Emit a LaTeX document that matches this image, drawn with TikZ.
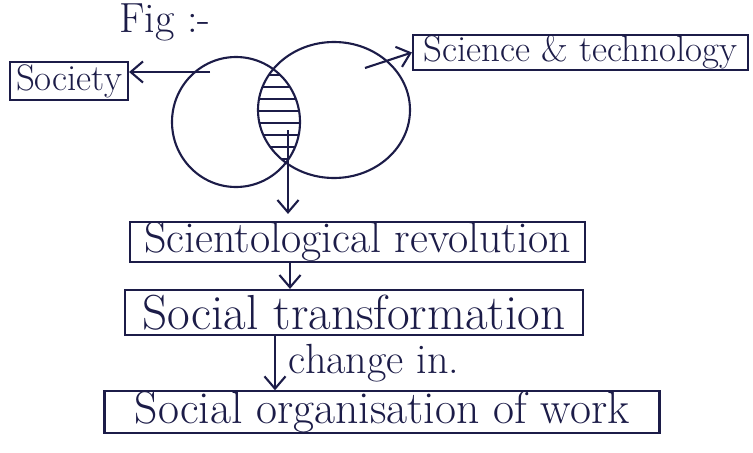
\documentclass[tikz,border=0pt]{standalone}
\usepackage{fontspec}
\usepackage{tikz}
\usetikzlibrary{calc}
\usetikzlibrary{shapes}
\usetikzlibrary{arrows.meta}
\definecolor{ink}{RGB}{28,28,72}
\newcommand\handfont[2]{\fontsize{#1}{#1}\selectfont\addfontfeatures{LetterSpace=#2}}
\tikzset{
  box/.style={draw=ink,text=ink,rectangle,inner sep=0pt},
  flow/.style={draw=ink,-{Straight Barb[length=7pt,width=12pt]}},
}

\begin{document}
\begin{tikzpicture}[line width=1.2pt]
        \useasboundingbox (0,0) rectangle (15.06,-9.06);
        \node[text=ink,font=\handfont{24}{5}] (fig) at (3.3,-0.45) {Fig :-};

        % the two circles
        \draw[ink] (4.72,-2.44) ellipse (1.28 and 1.3);
        \draw[ink] (6.68,-2.2) ellipse (1.52 and 1.36);
        \begin{scope}
        \clip (4.72,-2.44) ellipse (1.28 and 1.3);
        \clip (6.68,-2.2) ellipse (1.52 and 1.36);
        \foreach \y in {-1.5,-1.74,...,-3.8}
            \draw[ink] (5,\y) -- (6.2,\y);
        \end{scope}
        \coordinate (lens) at (5.76,-2.6);
        \coordinate (left) at (4.2,-1.44);
        \coordinate (right) at (7.3,-1.36);

        \node[box,font=\handfont{21}{5},minimum width=2.36cm,minimum height=0.76cm] (society) at (1.38,-1.62) {Society};
        \node[box,font=\handfont{21}{5},minimum width=6.7cm,minimum height=0.7cm] (tech) at (11.61,-1.05) {Science \& technology};
        \node[box,font=\handfont{25}{6},minimum width=9.1cm,minimum height=0.8cm] (rev) at (7.15,-4.84) {Scientological revolution};
        \node[box,font=\handfont{28}{7},minimum width=9.16cm,minimum height=0.9cm] (trans) at (7.08,-6.25) {Social transformation};
        \node[box,font=\handfont{26}{8},minimum width=11.1cm,minimum height=0.8cm] (work) at (7.64,-8.24) {Social organisation of work};

        \draw[flow] (left) -- (society.east |- left);
        \draw[flow] (right) -- (tech.west);
        \draw[flow] (lens) -- ($(lens |- rev.north)+(0,0.14)$);
        \draw[flow] (rev.south -| 5.8,0) -- (trans.north -| 5.8,0);
        \draw[flow] (trans.south -| 5.5,0) -- node[right=4pt,text=ink,font=\handfont{24}{1}] (chg) {change in.} (work.north -| 5.5,0);
\end{tikzpicture}
\end{document}
